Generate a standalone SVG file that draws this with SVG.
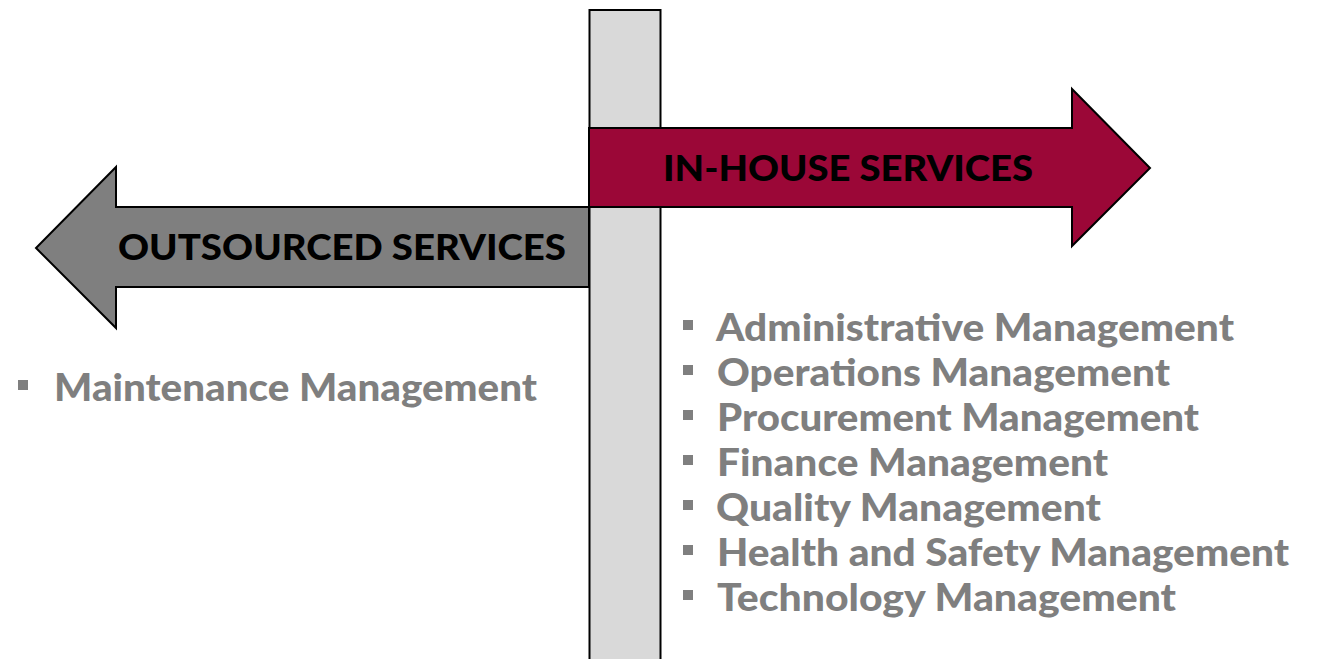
<svg xmlns="http://www.w3.org/2000/svg" width="1320" height="659" viewBox="0 0 1320 659">
  <style>
    .arrow-label { font-family: Lato, "Liberation Sans", sans-serif; font-weight: 900; font-size: 36px; fill: #000000; }
    .item { font-family: Lato, "Liberation Sans", sans-serif; font-weight: 900; font-size: 37px; fill: #7f7f7f; }
    .bullet { fill: #7f7f7f; }
    .outline { stroke: #000000; stroke-width: 2; stroke-linejoin: miter; }
  </style>
  <rect width="1320" height="659" fill="#ffffff"/>

  <!-- signpost -->
  <g id="post">
    <rect class="outline" x="589.5" y="10" width="71" height="660" fill="#d9d9d9"/>
  </g>

  <!-- left-pointing arrow -->
  <g id="outsourced">
    <polygon class="outline" fill="#7f7f7f" points="589,207 116,207 116,167 36,248 116,328 116,287 589,287"/>
    <text class="arrow-label" x="118" y="260" textLength="448" lengthAdjust="spacingAndGlyphs">OUTSOURCED SERVICES</text>
  </g>

  <!-- right-pointing arrow -->
  <g id="inhouse">
    <polygon class="outline" fill="#9b0737" points="589,128 1072,128 1072,89 1150,168 1072,246 1072,207 589,207"/>
    <text class="arrow-label" x="663" y="181" textLength="370" lengthAdjust="spacingAndGlyphs">IN-HOUSE SERVICES</text>
  </g>

  <!-- outsourced list -->
  <g id="outsourced-list">
    <rect class="bullet" x="18" y="380" width="10" height="10"/>
    <text class="item" x="54" y="401" textLength="483" lengthAdjust="spacingAndGlyphs">Maintenance Management</text>
  </g>

  <!-- in-house list -->
  <g id="inhouse-list">
    <rect class="bullet" x="683" y="320" width="10" height="10"/>
    <text class="item" x="716" y="341" textLength="518" lengthAdjust="spacingAndGlyphs">Administrative Management</text>
    <rect class="bullet" x="683" y="365" width="10" height="10"/>
    <text class="item" x="717" y="386" textLength="453" lengthAdjust="spacingAndGlyphs">Operations Management</text>
    <rect class="bullet" x="683" y="410" width="10" height="10"/>
    <text class="item" x="717" y="431" textLength="482" lengthAdjust="spacingAndGlyphs">Procurement Management</text>
    <rect class="bullet" x="683" y="455" width="10" height="10"/>
    <text class="item" x="717" y="476" textLength="391" lengthAdjust="spacingAndGlyphs">Finance Management</text>
    <rect class="bullet" x="683" y="500" width="10" height="10"/>
    <text class="item" x="716" y="521" textLength="385" lengthAdjust="spacingAndGlyphs">Quality Management</text>
    <rect class="bullet" x="683" y="545" width="10" height="10"/>
    <text class="item" x="717" y="566" textLength="572" lengthAdjust="spacingAndGlyphs">Health and Safety Management</text>
    <rect class="bullet" x="683" y="590" width="10" height="10"/>
    <text class="item" x="717" y="611" textLength="459" lengthAdjust="spacingAndGlyphs">Technology Management</text>
  </g>
</svg>
